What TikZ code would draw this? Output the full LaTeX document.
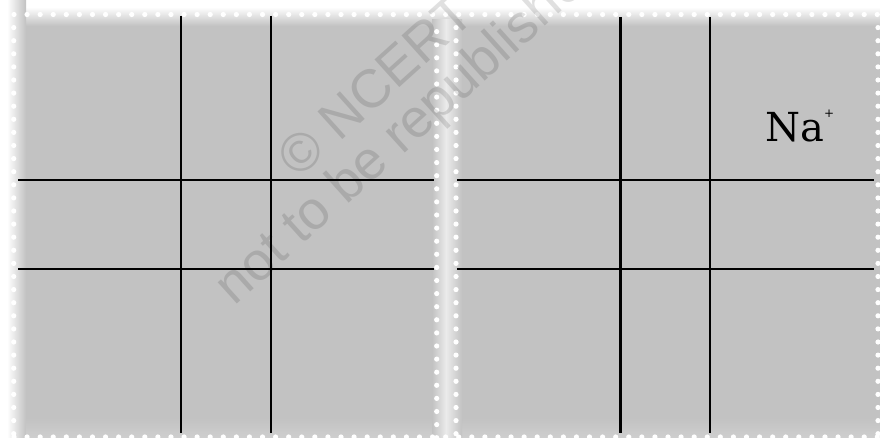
\documentclass[tikz,border=0pt]{standalone}
\usepackage{fontspec}
\newfontfamily\wmfont{Liberation Sans}
\newfontfamily\lblfont{DejaVu Serif}
\definecolor{bg}{HTML}{C2C2C2}
\definecolor{bgl}{HTML}{EBEBEB}
\tikzset{
  gridline/.style={line width=2.3pt, black},
  dot/.style={fill=white},
  wmark/.style={black, opacity=0.12, rotate=42, inner sep=0pt, font=\wmfont\fontsize{54}{54}\selectfont},
}
\begin{document}
\begin{tikzpicture}[x=1pt,y=-1pt]
\useasboundingbox (0,0) rectangle (880,438);
\clip (0,0) rectangle (880,438);
% background
\fill[bg] (0,0) rectangle (880,438);
\fill[white] (0,0) rectangle (880,7);
\shade[top color=white, bottom color=bg] (0,7) rectangle (880,26);
\fill[white] (0,0) rectangle (7,438);
\shade[left color=white, right color=bg] (7,0) rectangle (26,438);
\shade[top color=bg, bottom color=bg!80!white] (26,418) rectangle (880,438);
\shade[left color=bg, right color=bgl] (432,20) rectangle (446,438);
\shade[left color=bgl, right color=bg] (446,20) rectangle (462,438);
% dotted borders
\foreach \i in {0,...,66} {
  \fill[dot] ({14+\i*13.08},14.5) circle (2.6pt);
  \fill[dot] ({14+\i*13.08},437) circle (2.6pt);
}
\foreach \i in {1,...,32} {
  \fill[dot] (13.7,{14.5+\i*13.1}) circle (2.6pt);
  \fill[dot] (436.7,{18.5+\i*13.1}) circle (2.6pt);
  \fill[dot] (456,{14.5+\i*13.1}) circle (2.6pt);
  \fill[dot] (878,{14.5+\i*13.1}) circle (2.6pt);
}
% left panel grid
\draw[gridline] (181,16) -- (181,433);
\draw[gridline] (271,16) -- (271,433);
\draw[gridline] (18,180) -- (434,180);
\draw[gridline] (18,269) -- (434,269);
% right panel grid
\draw[gridline] (620.5,17) -- (620.5,433);
\draw[gridline] (710,17) -- (710,433);
\draw[gridline] (457,180) -- (874,180);
\draw[gridline] (457,269) -- (874,269);
% label
\node[anchor=base west, inner sep=0pt, font=\lblfont\fontsize{40}{40}\selectfont] (na) at (765,141.7)
  {Na\raisebox{24pt}{\fontsize{12}{12}\selectfont +}};
% watermark
\node[wmark] (wm1) at (375,85) {© NCERT};
\node[wmark] (wm2) at (413,127) {not to be republished};
\end{tikzpicture}
\end{document}
